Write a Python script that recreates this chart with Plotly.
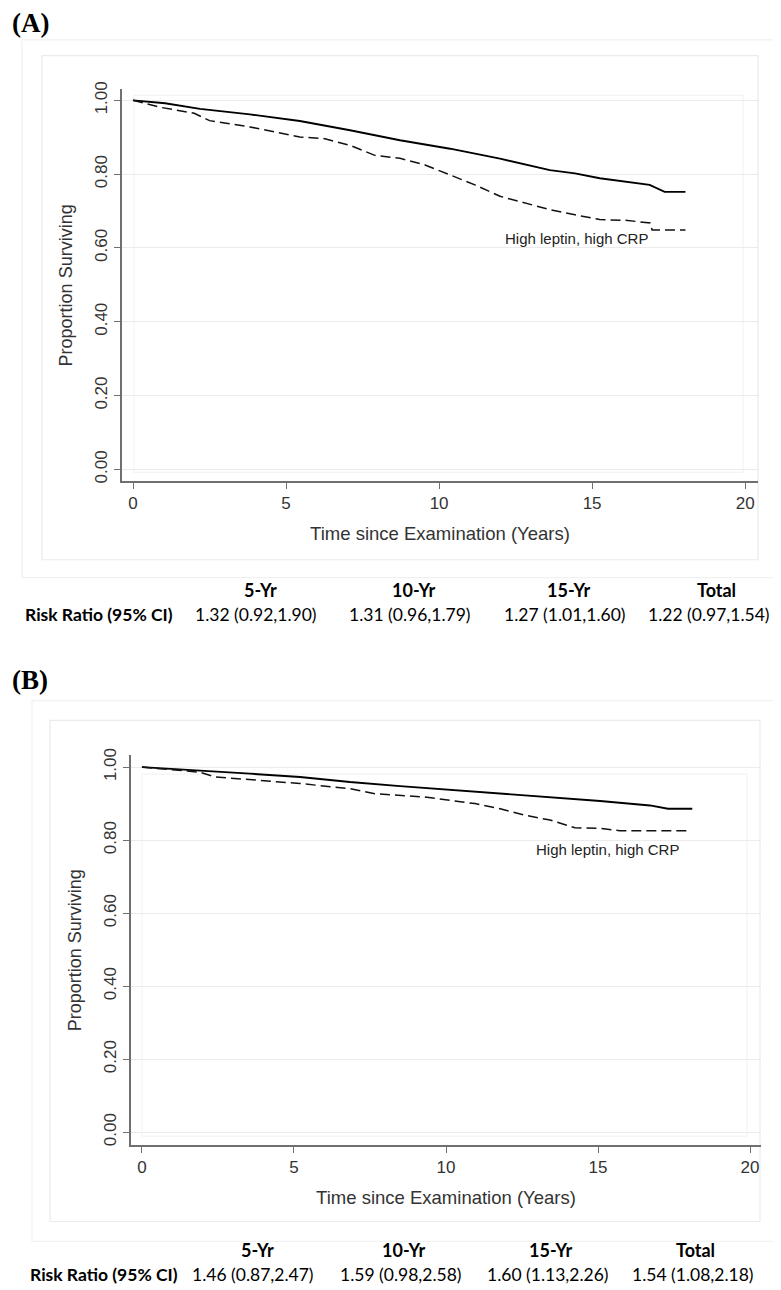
import plotly.graph_objects as go

# ---------------- data ----------------
# Panel A: survival curves (years, proportion surviving)
time_a_ref = [0, 1.05, 2.19, 3.82, 5.45, 7.09, 8.72, 10.36, 11.99, 13.62, 14.44, 15.25, 16.88, 17.37, 18.05]
surv_a_ref = [1.0, 0.992, 0.977, 0.962, 0.944, 0.919, 0.892, 0.869, 0.842, 0.811, 0.802, 0.789, 0.771, 0.752, 0.752]
time_a_hi = [0, 0.9, 2.0, 2.5, 3.82, 5.45, 6.27, 7.09, 7.9, 8.72, 9.54, 10.36, 11.17, 11.99, 12.8,
             13.62, 14.44, 15.25, 16.07, 16.9, 16.96, 18.05]
surv_a_hi = [1.0, 0.981, 0.965, 0.945, 0.928, 0.901, 0.896, 0.878, 0.851, 0.843, 0.825, 0.798, 0.771,
             0.740, 0.722, 0.704, 0.690, 0.677, 0.675, 0.668, 0.649, 0.649]

# Panel B
time_b_ref = [0, 1.9, 3.55, 5.2, 6.84, 8.49, 10.13, 11.78, 13.42, 15.07, 16.71, 17.3, 18.1]
surv_b_ref = [1.0, 0.991, 0.982, 0.973, 0.959, 0.948, 0.938, 0.927, 0.918, 0.907, 0.895, 0.886, 0.886]
time_b_hi = [0, 1.9, 2.4, 3.55, 5.2, 6.84, 7.66, 9.3, 10.95, 11.78, 12.6, 13.42, 14.24, 15.07, 15.72, 18.0]
surv_b_hi = [1.0, 0.986, 0.973, 0.966, 0.955, 0.941, 0.927, 0.918, 0.900, 0.886, 0.868, 0.855, 0.834,
             0.832, 0.826, 0.826]

curve_label = "High leptin, high CRP"
x_ticks = [0, 5, 10, 15, 20]
y_ticks = [0, 0.2, 0.4, 0.6, 0.8, 1.0]

table_headers = ["5-Yr", "10-Yr", "15-Yr", "Total"]
row_label = "Risk Ratio (95% CI)"
rr_a = ["1.32 (0.92,1.90)", "1.31 (0.96,1.79)", "1.27 (1.01,1.60)", "1.22 (0.97,1.54)"]
rr_b = ["1.46 (0.87,2.47)", "1.59 (0.98,2.58)", "1.60 (1.13,2.26)", "1.54 (1.08,2.18)"]
panel_labels = ["(A)", "(B)"]

# ---------------- layout helpers ----------------
OFF = 8  # page body margin
W, H = 781 - OFF, 1290 - OFF   # figure ends exactly at the window's right/bottom edges


def px(x):
    return (x - OFF) / W


def py(y):
    return 1 - (y - OFF) / H


AX_FONT = "Liberation Sans, Arial, sans-serif"
TAB_FONT = "Lato, Calibri, sans-serif"

fig = go.Figure()

line_solid = dict(color="black", width=1.9)
line_dash = dict(color="#111111", width=1.5, dash="10px,5px")

fig.add_trace(go.Scatter(x=time_a_ref, y=surv_a_ref, mode="lines", line=line_solid,
                         xaxis="x", yaxis="y", showlegend=False))
fig.add_trace(go.Scatter(x=time_a_hi, y=surv_a_hi, mode="lines", line=line_dash,
                         xaxis="x", yaxis="y", showlegend=False))
fig.add_trace(go.Scatter(x=time_b_ref, y=surv_b_ref, mode="lines", line=line_solid,
                         xaxis="x2", yaxis="y2", showlegend=False))
fig.add_trace(go.Scatter(x=time_b_hi, y=surv_b_hi, mode="lines", line=line_dash,
                         xaxis="x2", yaxis="y2", showlegend=False))


def xaxis_style(domain, rng, anchor):
    return dict(domain=domain, range=rng, anchor=anchor, tickvals=x_ticks,
                showline=True, linecolor="#707070", linewidth=1.5, mirror=False,
                ticks="outside", ticklen=6, tickcolor="#707070", tickwidth=1.2,
                showgrid=False, zeroline=False,
                tickfont=dict(family=AX_FONT, size=17, color="#333333"),
                title=dict(text="Time since Examination (Years)", standoff=15,
                           font=dict(family=AX_FONT, size=18.5, color="#333333")))


def yaxis_style(domain, rng, anchor):
    return dict(domain=domain, range=rng, anchor=anchor, tickvals=y_ticks, tickformat=".2f",
                tickangle=-90, showline=True, linecolor="#707070", linewidth=1.5,
                ticks="outside", ticklen=6, tickcolor="#707070", tickwidth=1.2,
                showgrid=True, gridcolor="#ebebeb", gridwidth=1, zeroline=False,
                tickfont=dict(family=AX_FONT, size=17, color="#333333"),
                title=dict(text="Proportion Surviving", standoff=15,
                           font=dict(family=AX_FONT, size=18, color="#333333")))


fig.update_layout(
    width=W, height=H,
    margin=dict(l=0, r=0, t=0, b=0),
    paper_bgcolor="white", plot_bgcolor="white",
    xaxis=xaxis_style([px(122), px(758)], [-0.36, 20.42], "y"),
    yaxis=yaxis_style([py(477), py(82)], [-0.0323, 1.0296], "x"),
    xaxis2=xaxis_style([px(131), px(761)], [-0.36, 20.36], "y2"),
    yaxis2=yaxis_style([py(1146), py(753)], [-0.0353, 1.0326], "x2"),
)

# faint frames (graph regions)
frames = [
    (22, 32, 780, 574, "#f1f1f1"),
    (42, 48, 758, 556, "#ebebeb"),
    (134, 88, 743, 468, "#f4f4f4"),
    (32, 698, 780, 1243, "#f1f1f1"),
    (50, 718, 760, 1223, "#ebebeb"),
    (142, 772, 747, 1137, "#f4f4f4"),
]
for x0, y0, x1, y1, c in frames:
    fig.add_shape(type="rect", xref="paper", yref="paper", x0=px(x0), x1=px(x1),
                  y0=py(y1), y1=py(y0), line=dict(color=c, width=1.2), layer="below")

# curve labels
fig.add_annotation(x=14.5, y=0.627, xref="x", yref="y", text=curve_label, showarrow=False,
                   xanchor="center", yanchor="middle",
                   font=dict(family=AX_FONT, size=15, color="#222222"))
fig.add_annotation(x=15.3, y=0.774, xref="x2", yref="y2", text=curve_label, showarrow=False,
                   xanchor="center", yanchor="middle",
                   font=dict(family=AX_FONT, size=15, color="#222222"))

# panel labels
for lab, yc in zip(panel_labels, [15, 677]):
    fig.add_annotation(x=px(10), y=py(yc), xref="paper", yref="paper", xanchor="left",
                       yanchor="middle", text="<b>%s</b>" % lab, showarrow=False,
                       font=dict(family="Liberation Serif, Times New Roman, serif", size=27,
                                 color="black"))

# risk-ratio tables
tables = [
    (rr_a, 587, 611, [260, 414, 569, 716], [256, 410, 565, 709], 99),
    (rr_b, 1252, 1276, [257, 404, 551, 695], [253, 401, 548, 693], 104),
]
for vals, yh, yr, xh, xv, xl in tables:
    for h, x in zip(table_headers, xh):
        fig.add_annotation(x=px(x), y=py(yh), xref="paper", yref="paper", text="<b>%s</b>" % h,
                           xanchor="center", yanchor="middle",
                           showarrow=False, font=dict(family=TAB_FONT, size=18, color="black"))
    for v, x in zip(vals, xv):
        fig.add_annotation(x=px(x), y=py(yr), xref="paper", yref="paper", text=v,
                           xanchor="center", yanchor="middle",
                           showarrow=False, font=dict(family=TAB_FONT, size=17.5, color="black"))
    fig.add_annotation(x=px(xl), y=py(yr), xref="paper", yref="paper", text="<b>%s</b>" % row_label,
                       xanchor="center", yanchor="middle",
                       showarrow=False, font=dict(family=TAB_FONT, size=17.5, color="black"))

fig.write_html("out.html")
